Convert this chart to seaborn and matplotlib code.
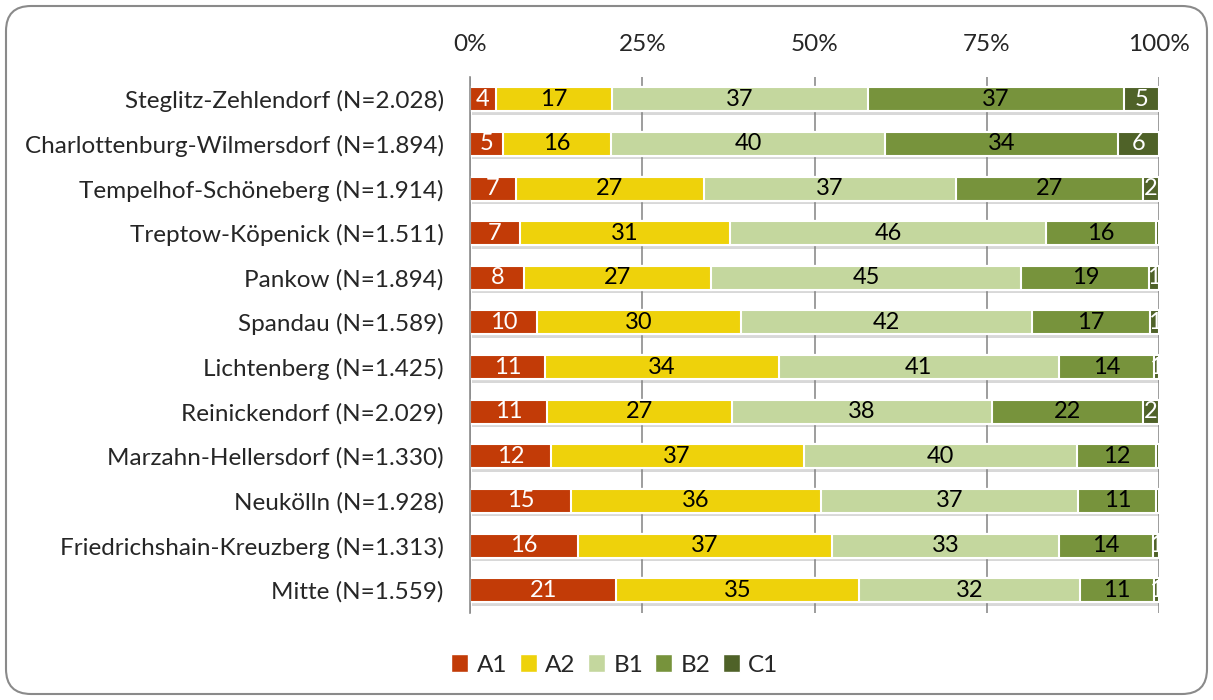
import matplotlib
matplotlib.use("Agg")
import matplotlib.pyplot as plt
import matplotlib.patheffects as pe
from matplotlib.patches import Patch, FancyBboxPatch
from matplotlib.transforms import IdentityTransform
import seaborn as sns
import pandas as pd

# Data: share of language levels per district (percent)
districts = [
    "Steglitz-Zehlendorf (N=2.028)",
    "Charlottenburg-Wilmersdorf (N=1.894)",
    "Tempelhof-Schöneberg (N=1.914)",
    "Treptow-Köpenick (N=1.511)",
    "Pankow (N=1.894)",
    "Spandau (N=1.589)",
    "Lichtenberg (N=1.425)",
    "Reinickendorf (N=2.029)",
    "Marzahn-Hellersdorf (N=1.330)",
    "Neukölln (N=1.928)",
    "Friedrichshain-Kreuzberg (N=1.313)",
    "Mitte (N=1.559)",
]
a1 = [3.7, 4.8, 6.6, 7.2, 7.9, 9.7, 10.9, 11.2, 11.7, 14.6, 15.7, 21.2]
a2 = [16.9, 15.6, 27.3, 30.6, 27.1, 29.7, 33.9, 26.8, 36.7, 36.3, 36.8, 35.2]
b1 = [37.1, 39.9, 36.6, 45.8, 45.0, 42.1, 40.7, 37.8, 39.7, 37.4, 33.0, 32.2]
b2 = [37.2, 33.8, 27.2, 16.0, 18.6, 17.2, 13.7, 21.9, 11.5, 11.3, 13.6, 10.6]
c1 = [5.1, 5.9, 2.3, 0.4, 1.4, 1.3, 0.8, 2.3, 0.4, 0.4, 0.9, 0.8]

levels = ["A1", "A2", "B1", "B2", "C1"]
colors = ["#C23B07", "#EED20B", "#C4D79E", "#77933C", "#4F6228"]
text_colors = ["white", "black", "black", "black", "white"]

df = pd.DataFrame({"district": districts, "A1": a1, "A2": a2,
                   "B1": b1, "B2": b2, "C1": c1})
cum = df[levels].cumsum(axis=1)
cum["district"] = df["district"]

sns.set_theme(style="white")
plt.rcParams["font.family"] = ["Lato", "DejaVu Sans"]
FS = 17.5

fig, ax = plt.subplots(figsize=(12.13, 7), dpi=100)
fig.subplots_adjust(left=0.3875, right=0.9555, top=0.89, bottom=0.125)

# stacked bars: draw cumulative totals from the widest down
for i in range(len(levels) - 1, -1, -1):
    n_before = len(ax.patches)
    sns.barplot(data=cum, x=levels[i], y="district", orient="h",
                color=colors[i], saturation=1, width=0.54,
                edgecolor="white", linewidth=1.5, ax=ax)
    if i == len(levels) - 1:
        for p in ax.patches[n_before:]:
            p.set_path_effects([pe.SimplePatchShadow(offset=(1.5, -2.5),
                                                     shadow_rgbFace="gray",
                                                     alpha=0.3),
                                pe.Normal()])

# value labels
for i, lvl in enumerate(levels):
    for j in range(len(districts)):
        v = df[lvl][j]
        if v < 0.5:
            continue
        ax.text(cum[lvl][j] - v / 2, j, str(int(v + 0.5)), ha="center",
                va="center", color=text_colors[i], fontsize=17, clip_on=True)

ax.set_xlim(0, 100)
ax.set_ylim(len(districts) - 0.5, -0.5)
ax.set_xticks([0, 25, 50, 75, 100])
ax.set_xticklabels(["0%", "25%", "50%", "75%", "100%"])
ax.xaxis.tick_top()
ax.tick_params(axis="x", length=0, pad=16, labelsize=FS)
ax.tick_params(axis="y", length=0, pad=19, labelsize=FS)
ax.set_xlabel("")
ax.set_ylabel("")
ax.grid(axis="x", color="#8c8c8c", linewidth=1.2)
ax.set_axisbelow(True)
for s in ["top", "right", "bottom"]:
    ax.spines[s].set_visible(False)
ax.spines["left"].set_color("#8c8c8c")
ax.spines["left"].set_linewidth(1.2)

handles = [Patch(facecolor=c, label=l) for c, l in zip(colors, levels)]
fig.legend(handles=handles, loc="center", bbox_to_anchor=(0.507, 1 - 665 / 700),
           ncol=5, frameon=False, fontsize=FS, handlelength=0.7,
           handleheight=0.7, handletextpad=0.35, columnspacing=0.5)

# rounded chart border
border = FancyBboxPatch((6, 6), 1201, 688, boxstyle="round,pad=0,rounding_size=25",
                        transform=IdentityTransform(), facecolor="none",
                        edgecolor="#8a8a8a", linewidth=1.5)
fig.add_artist(border)

fig.savefig("out.png", dpi=100)
